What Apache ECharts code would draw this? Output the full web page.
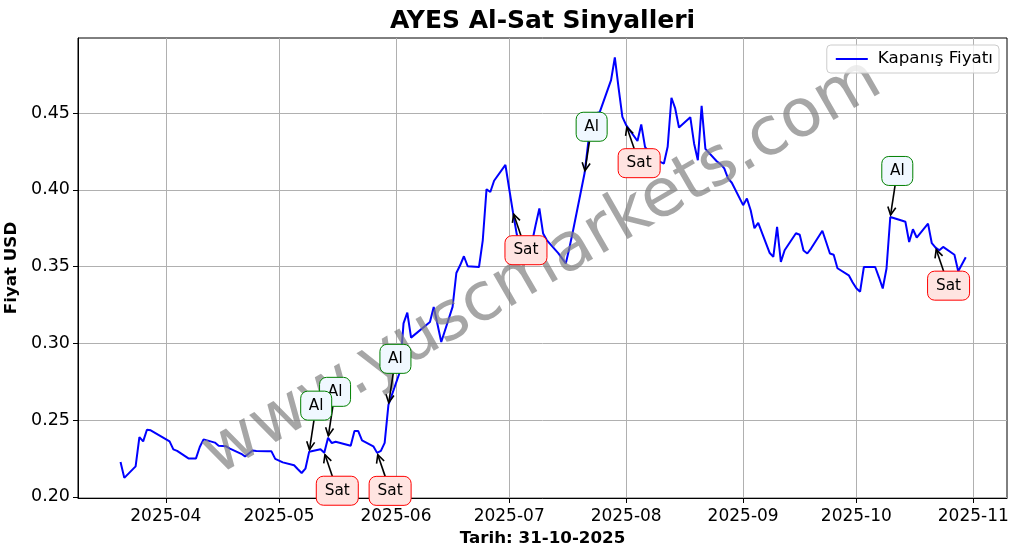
<!DOCTYPE html>
<html><head><meta charset="utf-8">
<script src="https://cdn.jsdelivr.net/npm/echarts@6/dist/echarts.min.js"></script>
<style>html,body{margin:0;padding:0;background:#fff}#c{width:1017px;height:554px}</style>
</head><body><div id="c"></div>
<script>
const dates = [
'2025-03-20','2025-03-21','2025-03-24','2025-03-25','2025-03-26','2025-03-27','2025-03-28',
'2025-04-02','2025-04-03','2025-04-04','2025-04-07','2025-04-08','2025-04-09','2025-04-10','2025-04-11',
'2025-04-14','2025-04-15','2025-04-16','2025-04-17','2025-04-18','2025-04-21','2025-04-22','2025-04-24','2025-04-25',
'2025-04-28','2025-04-29','2025-04-30','2025-05-02',
'2025-05-05','2025-05-06','2025-05-07','2025-05-08','2025-05-09',
'2025-05-12','2025-05-13','2025-05-14','2025-05-15','2025-05-16',
'2025-05-20','2025-05-21','2025-05-22','2025-05-23',
'2025-05-26','2025-05-27','2025-05-28','2025-05-29','2025-05-30',
'2025-06-02','2025-06-03','2025-06-04','2025-06-05',
'2025-06-10','2025-06-11','2025-06-12','2025-06-13',
'2025-06-16','2025-06-17','2025-06-18','2025-06-19','2025-06-20',
'2025-06-23','2025-06-24','2025-06-25','2025-06-26','2025-06-27',
'2025-06-30','2025-07-01','2025-07-02','2025-07-03','2025-07-04',
'2025-07-07','2025-07-08','2025-07-09','2025-07-10','2025-07-11',
'2025-07-14','2025-07-16','2025-07-17','2025-07-18',
'2025-07-21','2025-07-22','2025-07-23','2025-07-24','2025-07-25',
'2025-07-28','2025-07-29','2025-07-30','2025-07-31','2025-08-01',
'2025-08-04','2025-08-05','2025-08-06','2025-08-07','2025-08-08',
'2025-08-11','2025-08-12','2025-08-13','2025-08-14','2025-08-15',
'2025-08-18','2025-08-19','2025-08-20','2025-08-21','2025-08-22',
'2025-08-25','2025-08-26','2025-08-27','2025-08-28','2025-08-29',
'2025-09-01','2025-09-02','2025-09-03','2025-09-04','2025-09-05',
'2025-09-08','2025-09-09','2025-09-10','2025-09-11','2025-09-12',
'2025-09-15','2025-09-16','2025-09-17','2025-09-18','2025-09-19',
'2025-09-22','2025-09-23','2025-09-24','2025-09-25','2025-09-26',
'2025-09-29','2025-09-30','2025-10-01','2025-10-02','2025-10-03',
'2025-10-06','2025-10-07','2025-10-08','2025-10-09','2025-10-10',
'2025-10-13','2025-10-14','2025-10-15','2025-10-16','2025-10-17',
'2025-10-20','2025-10-21','2025-10-22','2025-10-23','2025-10-24',
'2025-10-27','2025-10-28','2025-10-30'
];
const prices = [
0.2227,0.2123,0.2198,0.2389,0.2361,0.2437,0.2433,
0.2361,0.2309,0.2299,0.2250,0.2250,0.2250,0.2324,0.2374,
0.2353,0.2333,0.2331,0.2329,0.2314,0.2280,0.2262,0.2301,0.2299,
0.2297,0.2296,0.2247,0.2224,
0.2205,0.2179,0.2155,0.2183,0.2294,
0.2309,0.2287,0.2384,0.2350,0.2358,
0.2333,0.2428,0.2428,0.2368,
0.2329,0.2286,0.2299,0.2351,0.2599,
0.2811,0.3130,0.3200,0.3037,
0.3139,0.3237,0.3124,0.3008,
0.3237,0.3458,0.3508,0.3567,0.3502,
0.3497,0.3671,0.4004,0.3986,0.4059,
0.4162,0.4007,0.3854,0.3711,0.3639,
0.3652,0.3769,0.3878,0.3715,0.3671,
0.3587,0.3520,0.3626,0.3743,
0.4111,0.4317,0.4499,0.4499,0.4506,
0.4714,0.4862,0.4662,0.4475,0.4421,
0.4318,0.4426,0.4280,0.4245,0.4206,
0.4171,0.4280,0.4600,0.4530,0.4406,
0.4473,0.4302,0.4193,0.4547,0.4267,
0.4186,0.4167,0.4139,0.4074,0.4046,
0.3900,0.3943,0.3867,0.3750,0.3784,
0.3590,0.3563,0.3758,0.3530,0.3606,
0.3717,0.3707,0.3604,0.3585,0.3617,
0.3733,0.3660,0.3585,0.3577,0.3489,
0.3443,0.3398,0.3359,0.3336,0.3497,
0.3497,0.3430,0.3357,0.3487,0.3823,
0.3800,0.3792,0.3660,0.3743,0.3689,
0.3780,0.3652,0.3623,0.3606,0.3628,
0.3577,0.3469,0.3561
];
const alDates = ['2025-05-09','2025-05-14','2025-05-30','2025-07-21','2025-10-10'];
const satDates = ['2025-05-13','2025-05-27','2025-07-02','2025-08-01','2025-10-22'];
const xTickLabels = ['2025-04','2025-05','2025-06','2025-07','2025-08','2025-09','2025-10','2025-11'];
const yTicks = [0.20,0.25,0.30,0.35,0.40,0.45];
const titleText = 'AYES Al-Sat Sinyalleri';
const seriesName = 'Kapanış Fiyatı';
const xName = 'Tarih: 31-10-2025';
const yName = 'Fiyat USD';
const watermark = 'www.yuscmarkets.com';

const DAY = 86400000;
function ts(s){const p=s.split('-').map(Number);return Date.UTC(p[0],p[1]-1,p[2]||1);}
const lineData = dates.map((d,i)=>[ts(d),prices[i]]);
function priceAt(d){return prices[dates.indexOf(d)];}
const sigData = alDates.map(d=>[ts(d),priceAt(d),0]).concat(satDates.map(d=>[ts(d),priceAt(d),1]));
const xTickTs = xTickLabels.map(l=>ts(l+'-01'));
const FONT = 'DejaVu Sans';

function renderSignal(params, api){
  const p = api.coord([api.value(0), api.value(1)]);
  const isAl = api.value(2) === 0;
  const txt = isAl ? 'Al' : 'Sat';
  const w = isAl ? 31 : 42, h = 29;
  const cx = p[0] + (isAl ? 7 : 13), cy = p[1] + (isAl ? -46 : 38);
  const ey = isAl ? cy + h/2 : cy - h/2;
  const t = (ey - cy) / (p[1] - cy);
  const sx = cx + (p[0]-cx)*t, sy = ey;
  const dx = p[0]-sx, dy = p[1]-sy, L = Math.hypot(dx,dy);
  const ux = dx/L, uy = dy/L;
  const tx = p[0]-ux*2, ty = p[1]-uy*2;
  const hl = 8, hw = 4;
  const bx = tx-ux*hl, by = ty-uy*hl;
  const base = (20 - params.dataIndex) * 5;
  return {type:'group', children:[
    {type:'line', z2:base+1, shape:{x1:sx,y1:sy,x2:tx,y2:ty}, style:{stroke:'#000',lineWidth:1.6}},
    {type:'polyline', z2:base+1, shape:{points:[[bx-uy*hw,by+ux*hw],[tx,ty],[bx+uy*hw,by-ux*hw]]}, style:{stroke:'#000',lineWidth:1.6,fill:null}},
    {type:'rect', z2:base+2, shape:{x:cx-w/2,y:cy-h/2,width:w,height:h,r:7}, style:{fill:isAl?'#f0f8ff':'#ffe4e1',stroke:isAl?'#008000':'#ff0000',lineWidth:1}},
    {type:'text', z2:base+3, x:cx, y:cy, style:{text:txt,fill:'#000',fontSize:15.3,fontFamily:FONT,align:'center',verticalAlign:'middle'}}
  ]};
}

const chart = echarts.init(document.getElementById('c'), null, {renderer:'canvas'});
chart.setOption({
  animation:false,
  backgroundColor:'#fff',
  textStyle:{fontFamily:FONT},
  title:{text:titleText,left:542.5,textAlign:'center',top:8,padding:0,
    textStyle:{fontSize:25,fontWeight:'bold',color:'#000',fontFamily:FONT,lineHeight:26}},
  legend:{data:[{name:seriesName,icon:'rect'}],right:18,top:45,orient:'horizontal',
    itemWidth:32,itemHeight:2,padding:[5,6,5,9],
    backgroundColor:'rgba(255,255,255,0.8)',borderColor:'#cccccc',borderWidth:1,borderRadius:4,
    textStyle:{fontSize:16.7,color:'#000',fontFamily:FONT,padding:[0,0,0,5],lineHeight:18}},
  grid:{left:78,right:10,top:38,bottom:56,containLabel:false,outerBoundsMode:'none',
    show:true,borderColor:'#000',borderWidth:1,backgroundColor:'transparent'},
  xAxis:{type:'value',scale:true,
    min:ts('2025-04-01')-23.27*DAY, max:ts('2025-11-01')+8.93*DAY,
    name:xName,nameLocation:'middle',nameGap:32,
    nameTextStyle:{fontSize:16.7,fontWeight:'bold',color:'#000',fontFamily:FONT},
    axisLine:{show:true,onZero:false,lineStyle:{color:'#000',width:1}},
    axisTick:{show:true,length:5,customValues:xTickTs,lineStyle:{color:'#000',width:1}},
    axisLabel:{customValues:xTickTs,margin:10,fontSize:17,color:'#000',fontFamily:FONT,
      formatter:function(v){const d=new Date(v);return d.getUTCFullYear()+'-'+String(d.getUTCMonth()+1).padStart(2,'0');}},
    splitLine:{show:true,lineStyle:{color:'#b0b0b0',width:1}}
  },
  yAxis:{type:'value',min:0.1992,max:0.4989,
    name:yName,nameLocation:'middle',nameGap:52,nameRotate:90,
    nameTextStyle:{fontSize:16.7,fontWeight:'bold',color:'#000',fontFamily:FONT},
    axisLine:{show:true,onZero:false,lineStyle:{color:'#000',width:1}},
    axisTick:{show:true,length:5,customValues:yTicks,lineStyle:{color:'#000',width:1}},
    axisLabel:{customValues:yTicks,margin:8,fontSize:17.5,color:'#000',fontFamily:FONT,
      formatter:function(v){return v.toFixed(2);}},
    splitLine:{show:true,lineStyle:{color:'#b0b0b0',width:1}}
  },
  graphic:[{type:'text',x:542.5,y:268,rotation:Math.PI/6,z:3,silent:true,
    style:{text:watermark,fill:'rgba(128,128,128,0.7)',fontSize:67,fontFamily:FONT,align:'center',verticalAlign:'middle'}}],
  series:[
    {name:seriesName,type:'line',data:lineData,showSymbol:false,symbol:'none',
      lineStyle:{color:'#0000ff',width:2},itemStyle:{color:'#0000ff'},z:2},
    {name:'signals',type:'custom',data:sigData,renderItem:renderSignal,zlevel:1,z:100,clip:false}
  ]
});
</script></body></html>
